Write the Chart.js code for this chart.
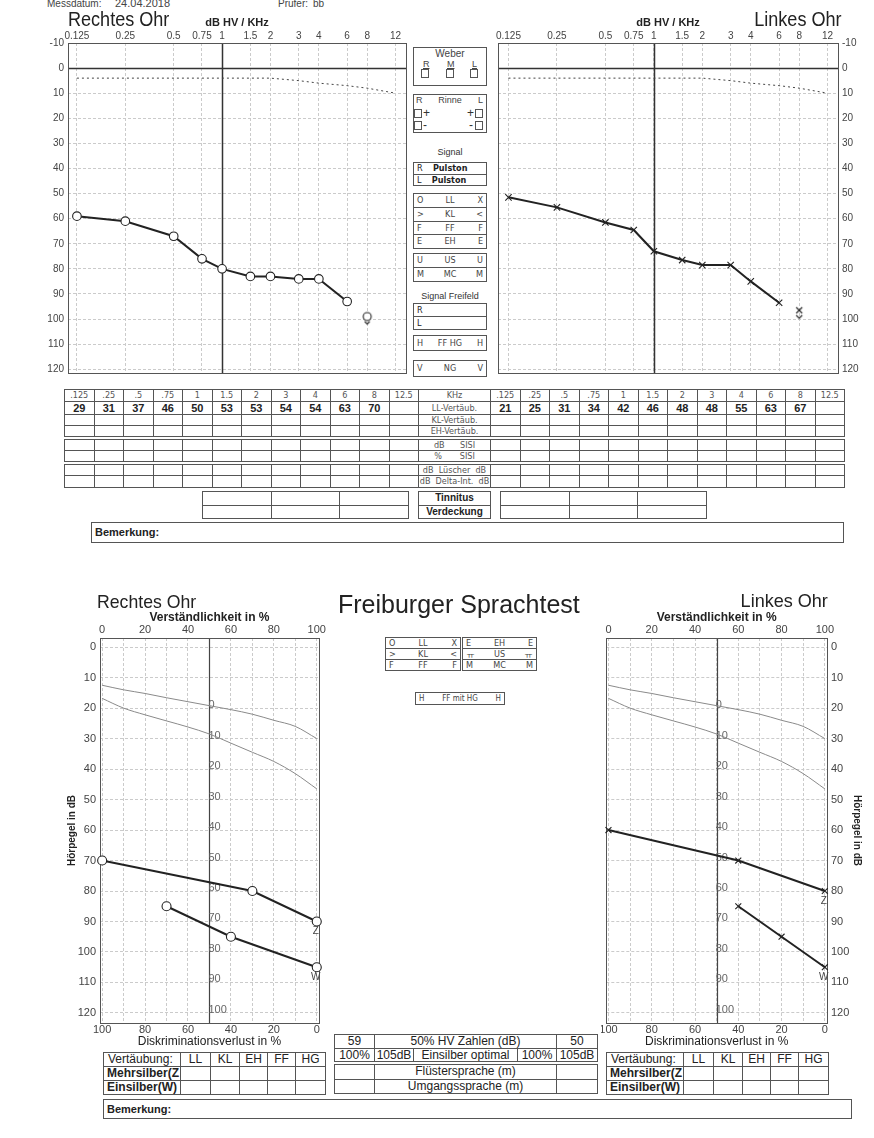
<!DOCTYPE html>
<html>
<head>
<meta charset="utf-8">
<script src="https://cdn.jsdelivr.net/npm/chart.js@4.4.1/dist/chart.umd.min.js"></script>
<style>
  body { margin: 0; background: #fff; }
  #page { position: relative; width: 874px; height: 1138px; overflow: hidden;
          font-family: "Liberation Sans", Arial, sans-serif; color: #2c2c2c; }
  .a { position: absolute; white-space: nowrap; }
  canvas { position: absolute; }
  .c { position: absolute; border: 1px solid #555; box-sizing: border-box; text-align: center;
       overflow: hidden; white-space: nowrap; font-size: 9px; }
  .nar { font-family: "Liberation Sans Narrow", "DejaVu Sans Condensed", "Liberation Sans", sans-serif; }
  .bx { position: absolute; border: 1px solid #555; box-sizing: border-box; }
  .row3 { display: grid; grid-template-columns: 1fr 2fr 1fr; padding: 0 3px; font-size: 9px; color: #444; }
  .row3 span:nth-child(1) { text-align: left; }
  .row3 span:nth-child(2) { text-align: center; }
  .row3 span:nth-child(3) { text-align: right; }
  .sq { position: absolute; width: 8px; height: 9px; border: 1px solid #555; box-sizing: border-box; }
</style>
</head>
<body>
<div id="page">
  <canvas id="audioRight"></canvas>
  <canvas id="audioLeft"></canvas>
  <canvas id="speechRight"></canvas>
  <canvas id="speechLeft"></canvas>
</div>
<script>
// ---- audiogram data (dB HV) ----
const freqs = [0.125, 0.25, 0.5, 0.75, 1, 1.5, 2, 3, 4, 6, 8, 12];
const freqTickLabels = ["0.125", "0.25", "0.5", "0.75", "1", "1.5", "2", "3", "4", "6", "8", "12"];
const audioDbTicks = [-10, 0, 10, 20, 30, 40, 50, 60, 70, 80, 90, 100, 110, 120];
const normalThreshold = [4, 4, 4, 4, 4, 4, 4, 5, 6, 7, 8, 10];

const rightAirFreqs = [0.125, 0.25, 0.5, 0.75, 1, 1.5, 2, 3, 4, 6];
const rightAir = [59, 61, 67, 76, 80, 83, 83, 84, 84, 93];
const rightNoRespFreqs = [8];
const rightNoResp = [99];

const leftAirFreqs = [0.125, 0.25, 0.5, 0.75, 1, 1.5, 2, 3, 4, 6];
const leftAir = [51.5, 55.5, 61.5, 64.5, 73, 76.5, 78.5, 78.5, 85, 93.5];
const leftNoRespFreqs = [8];
const leftNoResp = [96.5];

// table below the audiograms
const tableFreqLabels = [".125", ".25", ".5", ".75", "1", "1.5", "2", "3", "4", "6", "8", "12.5"];
const rightMasking = [29, 31, 37, 46, 50, 53, 53, 54, 54, 63, 70, ""];
const leftMasking = [21, 25, 31, 34, 42, 46, 48, 48, 55, 63, 67, ""];

// ---- Freiburger Sprachtest data ----
const normPct = [0, 10, 20, 30, 40, 50, 60, 70, 80, 90, 100];
const lossTicks = [0, 20, 40, 60, 80, 100];
const speechDbGrid = [0, 5, 10, 15, 20, 25, 30, 35, 40, 45, 50, 55, 60, 65, 70, 75, 80, 85, 90, 95, 100, 105, 110, 115, 120];
const zahlenNorm = [12.5, 14, 15.2, 16.6, 17.9, 19.2, 20.5, 22, 24, 26, 30];
const einsilberNorm = [16.8, 20, 22.2, 24.2, 26.2, 28.5, 31.5, 34.5, 37.5, 41.5, 46.5];
const speechLevelLabels = ["0", "10", "20", "30", "40", "50", "60", "70", "80", "90", "100"];
const speechLevelDb = [19, 29, 39, 49, 59, 69, 79, 89, 99, 109, 119];

const rightZPct = [0, 70, 100];
const rightZdB = [70, 80, 90];
const rightWPct = [30, 60, 100];
const rightWdB = [85, 95, 105];
const leftZPct = [0, 60, 100];
const leftZdB = [60, 70, 80];
const leftWPct = [60, 80, 100];
const leftWdB = [85, 95, 105];

// ---------------------------------------------------------------
const page = document.getElementById("page");
const FONT = "'Liberation Sans', Arial, sans-serif";
const GRID = "#cbcbcb";

function xy(xs, ys) {
  return xs.map((x, i) => ({ x, y: ys[i] }));
}

function placeCanvas(id, left, top, width, height) {
  const c = document.getElementById(id);
  c.width = width;
  c.height = height;
  c.style.left = left + "px";
  c.style.top = top + "px";
  c.style.width = width + "px";
  c.style.height = height + "px";
  return c;
}

// frame + heavy reference lines
const framePlugin = {
  id: "frame",
  beforeDatasetsDraw(chart, args, opts) {
    const { ctx, chartArea: a } = chart;
    ctx.save();
    ctx.strokeStyle = opts.color;
    ctx.lineWidth = opts.width;
    (opts.xLines || []).forEach((v) => {
      const px = Math.round(chart.scales.x.getPixelForValue(v)) + 0.5;
      ctx.beginPath(); ctx.moveTo(px, a.top); ctx.lineTo(px, a.bottom); ctx.stroke();
    });
    (opts.yLines || []).forEach((v) => {
      const py = Math.round(chart.scales.y.getPixelForValue(v)) + 0.5;
      ctx.beginPath(); ctx.moveTo(a.left, py); ctx.lineTo(a.right, py); ctx.stroke();
    });
    ctx.lineWidth = 1;
    ctx.strokeStyle = "#555";
    ctx.strokeRect(Math.round(a.left) + 0.5, Math.round(a.top) + 0.5,
      Math.round(a.right - a.left), Math.round(a.bottom - a.top));
    ctx.restore();
  },
};

// speech level numbers inside the chart + Z/W end labels
const levelTextPlugin = {
  id: "levelText",
  beforeDatasetsDraw(chart, args, opts) {
    if (!opts.labels) return;
    const { ctx, scales: { x, y } } = chart;
    ctx.save();
    ctx.font = "11px " + FONT;
    ctx.fillStyle = opts.color;
    ctx.textAlign = "left";
    ctx.textBaseline = "middle";
    opts.labels.forEach((t, i) => {
      ctx.fillText(t, x.getPixelForValue(opts.at) - 1, y.getPixelForValue(opts.values[i]));
    });
    ctx.restore();
  },
  afterDatasetsDraw(chart) {
    const { ctx } = chart;
    ctx.save();
    ctx.font = "10px " + FONT;
    ctx.fillStyle = "#444";
    ctx.textAlign = "center";
    ctx.textBaseline = "middle";
    chart.data.datasets.forEach((ds, i) => {
      if (!ds.endLabel) return;
      const pts = chart.getDatasetMeta(i).data;
      const p = pts[pts.length - 1];
      ctx.fillText(ds.endLabel, p.x - 1, p.y + 10);
    });
    ctx.restore();
  },
};

function noRespMarker(kind) {
  const c = document.createElement("canvas");
  c.width = 14;
  c.height = 22;
  const g = c.getContext("2d");
  g.strokeStyle = "#222";
  g.lineWidth = 1.1;
  if (kind === "o") {
    g.fillStyle = "#fff";
    g.beginPath(); g.arc(7, 11, 4, 0, Math.PI * 2); g.fill(); g.stroke();
    g.beginPath(); g.moveTo(4.5, 16); g.lineTo(7, 18.5); g.lineTo(9.5, 16); g.stroke();
  } else {
    g.beginPath(); g.moveTo(4, 8); g.lineTo(10, 14); g.moveTo(10, 8); g.lineTo(4, 14); g.stroke();
    g.beginPath(); g.moveTo(4, 16); g.lineTo(7, 19); g.lineTo(10, 16); g.stroke();
  }
  return c;
}

function audiogram(id, geo, axisSide, xMin, xMax, datasets) {
  const canvas = placeCanvas(id, geo.left, geo.top, geo.width, geo.height);
  return new Chart(canvas, {
    type: "line",
    data: { datasets },
    plugins: [framePlugin],
    options: {
      responsive: false,
      animation: false,
      events: [],
      layout: { padding: geo.padding },
      plugins: {
        legend: { display: false },
        tooltip: { enabled: false },
        frame: { xLines: [1], yLines: [0], color: "#333", width: 1.5 },
      },
      scales: {
        x: {
          type: "logarithmic",
          position: "top",
          min: xMin,
          max: xMax,
          afterBuildTicks: (s) => { s.ticks = freqs.map((v) => ({ value: v })); },
          afterFit: (s) => { s.height = 30; },
          ticks: {
            autoSkip: false, maxRotation: 0, minRotation: 0, padding: 1,
            color: "#444", font: { family: FONT, size: 10 },
            callback: (v, i) => freqTickLabels[i],
          },
          grid: { color: GRID, drawTicks: false },
          border: { display: false, dash: [3, 2] },
          title: {
            display: true, text: "dB HV / KHz", color: "#222",
            font: { family: FONT, size: 11, weight: "bold" }, padding: { top: 3, bottom: 0 },
          },
        },
        y: {
          type: "linear",
          position: axisSide,
          reverse: true,
          min: -10,
          max: 121.5,
          afterBuildTicks: (s) => { s.ticks = audioDbTicks.map((v) => ({ value: v })); },
          afterFit: (s) => { s.width = 36; },
          ticks: { padding: 4, color: "#444", font: { family: FONT, size: 10 } },
          grid: { color: GRID, drawTicks: false },
          border: { display: false, dash: [3, 2] },
        },
      },
    },
  });
}

function airSeries(freqList, values, style) {
  return {
    data: xy(freqList, values),
    borderColor: "#222",
    borderWidth: 2,
    pointStyle: style,
    pointRadius: style === "circle" ? 4.3 : 4.5,
    pointBorderWidth: 1.1,
    pointBackgroundColor: "#fff",
    pointBorderColor: "#222",
    clip: false,
  };
}

function noRespSeries(freqList, values, kind) {
  return {
    data: xy(freqList, values),
    showLine: false,
    pointStyle: noRespMarker(kind),
    pointRadius: 5,
    clip: false,
  };
}

function normalSeries() {
  return {
    data: xy(freqs, normalThreshold),
    borderColor: "#444",
    borderWidth: 1,
    borderDash: [2, 3],
    pointRadius: 0,
  };
}

audiogram("audioRight", { left: 32, top: 13, width: 380, height: 370, padding: { right: 4, bottom: 4 } },
  "left", 0.110, 13.94,
  [normalSeries(), airSeries(rightAirFreqs, rightAir, "circle"), noRespSeries(rightNoRespFreqs, rightNoResp, "o")]);

audiogram("audioLeft", { left: 492, top: 13, width: 382, height: 370, padding: { left: 4, bottom: 4 } },
  "right", 0.1076, 13.93,
  [normalSeries(), airSeries(leftAirFreqs, leftAir, "crossRot"), noRespSeries(leftNoRespFreqs, leftNoResp, "x")]);

function speechChart(id, geo, axisSide, datasets) {
  const canvas = placeCanvas(id, geo.left, geo.top, geo.width, geo.height);
  return new Chart(canvas, {
    type: "line",
    data: { datasets },
    plugins: [framePlugin, levelTextPlugin],
    options: {
      responsive: false,
      animation: false,
      events: [],
      layout: { padding: geo.padding },
      plugins: {
        legend: { display: false },
        tooltip: { enabled: false },
        frame: { xLines: [50], yLines: [], color: "#444", width: 1.2 },
        levelText: { labels: speechLevelLabels, values: speechLevelDb, at: 50, color: "#666" },
      },
      scales: {
        x: {
          type: "linear",
          position: "top",
          min: -1,
          max: 101,
          afterBuildTicks: (s) => { s.ticks = normPct.map((v) => ({ value: v })); },
          afterFit: (s) => { s.height = 28; },
          ticks: {
            autoSkip: false, maxRotation: 0, padding: 1, color: "#444",
            font: { family: FONT, size: 11 },
            callback: (v) => (v % 20 === 0 ? v : ""),
          },
          grid: { color: GRID, drawTicks: false },
          border: { display: false, dash: [3, 2] },
          title: {
            display: true, text: "Verständlichkeit in %", color: "#222",
            font: { family: FONT, size: 12, weight: "bold" }, padding: { top: 0, bottom: 0 },
          },
        },
        x2: {
          type: "linear",
          axis: "x",
          position: "bottom",
          reverse: true,
          min: -1,
          max: 101,
          afterBuildTicks: (s) => { s.ticks = lossTicks.map((v) => ({ value: v })); },
          afterFit: (s) => { s.height = 27; },
          ticks: { autoSkip: false, maxRotation: 0, padding: 0, color: "#444", font: { family: FONT, size: 11 } },
          grid: { display: false, drawTicks: false },
          border: { display: false },
          title: {
            display: true, text: "Diskriminationsverlust in %", color: "#222",
            font: { family: FONT, size: 12 }, padding: { top: 0, bottom: 1 },
          },
        },
        y: {
          type: "linear",
          position: axisSide,
          reverse: true,
          min: -3,
          max: 123.3,
          afterBuildTicks: (s) => { s.ticks = speechDbGrid.map((v) => ({ value: v })); },
          afterFit: (s) => { s.width = axisSide === "left" ? 34 : 36; },
          ticks: {
            padding: 4, color: "#444", font: { family: FONT, size: 11 },
            callback: (v) => (v % 10 === 0 ? v : ""),
          },
          grid: { color: GRID, drawTicks: false },
          border: { display: false, dash: [3, 2] },
          title: {
            display: true, text: "Hörpegel in dB", color: "#222",
            font: { family: FONT, size: 10, weight: "bold" }, padding: 0,
          },
        },
      },
    },
  });
}

function normCurve(values) {
  return {
    data: xy(normPct, values),
    borderColor: "#8a8a8a",
    borderWidth: 1,
    pointRadius: 0,
    cubicInterpolationMode: "monotone",
  };
}

function patientCurve(xs, ys, style, label) {
  return {
    data: xy(xs, ys),
    endLabel: label,
    borderColor: "#222",
    borderWidth: 2,
    pointStyle: style,
    pointRadius: style === "circle" ? 4.5 : 4.2,
    pointBorderWidth: 1.1,
    pointBackgroundColor: "#fff",
    pointBorderColor: "#222",
    clip: false,
  };
}

speechChart("speechRight", { left: 66, top: 610, width: 261, height: 440, padding: { right: 4 } }, "left", [
  normCurve(zahlenNorm), normCurve(einsilberNorm),
  patientCurve(rightZPct, rightZdB, "circle", "Z"),
  patientCurve(rightWPct, rightWdB, "circle", "W"),
]);

speechChart("speechLeft", { left: 601, top: 610, width: 262, height: 440, padding: { left: 4 } }, "right", [
  normCurve(zahlenNorm), normCurve(einsilberNorm),
  patientCurve(leftZPct, leftZdB, "crossRot", "Z"),
  patientCurve(leftWPct, leftWdB, "crossRot", "W"),
]);

// ---------------- text and boxes ----------------
function txt(x, y, html, style) {
  const d = document.createElement("div");
  d.className = "a";
  d.style.left = x + "px";
  d.style.top = y + "px";
  Object.assign(d.style, style || {});
  d.innerHTML = html;
  page.appendChild(d);
  return d;
}

function cell(x, y, w, h, html, style) {
  const d = document.createElement("div");
  d.className = "c nar";
  Object.assign(d.style, {
    left: x + "px", top: y + "px", width: w + 1 + "px", height: h + 1 + "px", lineHeight: h - 1 + "px",
  });
  Object.assign(d.style, style || {});
  d.innerHTML = html;
  page.appendChild(d);
  return d;
}

function rows3(x, y, w, rowH, rows, style) {
  rows.forEach((r, i) => {
    const d = document.createElement("div");
    d.className = "bx row3 nar";
    Object.assign(d.style, {
      left: x + "px", top: y + i * rowH + "px", width: w + "px", height: rowH + 1 + "px", lineHeight: rowH - 1 + "px",
    });
    Object.assign(d.style, style || {});
    d.innerHTML = r.map((s) => `<span>${s}</span>`).join("");
    page.appendChild(d);
  });
}

function sq(x, y) {
  const d = document.createElement("div");
  d.className = "sq";
  d.style.left = x + "px";
  d.style.top = y + "px";
  page.appendChild(d);
}

// header
txt(47, -2, "Messdatum:", { fontSize: "10px", color: "#444" });
txt(115, -3, "24.04.2018", { fontSize: "11px", color: "#444" });
txt(278, -2, "Prüfer:", { fontSize: "10px", color: "#444" });
txt(313, -2, "bb", { fontSize: "10px", color: "#444" });
txt(68, 7, "Rechtes Ohr", { fontSize: "21px", color: "#222", transform: "scaleX(0.86)", transformOrigin: "left top" });
txt(0, 7, "Linkes Ohr", { fontSize: "21px", color: "#222", left: "auto", right: "32px", transform: "scaleX(0.86)", transformOrigin: "right top" });

// middle legend panel of the audiogram
const PX = 413, PW = 74;
const weber = document.createElement("div");
weber.className = "bx";
Object.assign(weber.style, { left: PX + "px", top: "47px", width: PW + "px", height: "39px" });
page.appendChild(weber);
txt(PX, 48, "Weber", { width: PW + "px", textAlign: "center", fontSize: "10px", color: "#444" });
txt(PX + 10, 59, "R", { fontSize: "9px", textDecoration: "underline", color: "#444" });
txt(PX + 34, 59, "M", { fontSize: "9px", textDecoration: "underline", color: "#444" });
txt(PX + 59, 59, "L", { fontSize: "9px", textDecoration: "underline", color: "#444" });
sq(PX + 8, 69); sq(PX + 33, 69); sq(PX + 57, 69);

const rinne = document.createElement("div");
rinne.className = "bx";
Object.assign(rinne.style, { left: PX + "px", top: "94px", width: PW + "px", height: "39px" });
page.appendChild(rinne);
txt(PX + 3, 95, "R", { fontSize: "9px", color: "#444" });
txt(PX, 95, "Rinne", { width: PW + "px", textAlign: "center", fontSize: "9px", color: "#444" });
txt(PX + 65, 95, "L", { fontSize: "9px", color: "#444" });
sq(PX + 1, 109); sq(PX + 62, 109); sq(PX + 1, 121); sq(PX + 62, 121);
txt(PX + 10, 106, "+", { fontSize: "12px", color: "#333" });
txt(PX + 54, 106, "+", { fontSize: "12px", color: "#333" });
txt(PX + 10, 118, "-", { fontSize: "12px", color: "#333" });
txt(PX + 56, 118, "-", { fontSize: "12px", color: "#333" });

txt(PX, 147, "Signal", { width: PW + "px", textAlign: "center", fontSize: "9px", color: "#333" });
rows3(PX, 162, PW, 11.5, [["R&nbsp;&nbsp;&nbsp;&nbsp;<b>Pulston</b>", "", ""], ["L&nbsp;&nbsp;&nbsp;&nbsp;<b>Pulston</b>", "", ""]],
  { display: "block", color: "#222" });
rows3(PX, 193, PW, 13.75, [["O", "LL", "X"], [">", "KL", "<"], ["F", "FF", "F"], ["E", "EH", "E"]]);
rows3(PX, 253, PW, 13.75, [["U", "US", "U"], ["M", "MC", "M"]]);
txt(PX, 291, "Signal Freifeld", { width: PW + "px", textAlign: "center", fontSize: "9px", color: "#333" });
rows3(PX, 303, PW, 13, [["R", "", ""], ["L", "", ""]], { color: "#222" });
rows3(PX, 335, PW, 15, [["H", "FF HG", "H"]]);
rows3(PX, 360, PW, 16, [["V", "NG", "V"]]);

// audiogram tables
const CW = 29.5, LX = 64, MX = LX + 12 * CW, MW = 72, RX = MX + MW;
function tableRow(y, h, leftVals, label, rightVals, style) {
  for (let i = 0; i < 12; i++) {
    cell(LX + i * CW, y, CW, h, leftVals ? leftVals[i] : "", style);
    cell(RX + i * CW, y, CW, h, rightVals ? rightVals[i] : "", style);
  }
  cell(MX, y, MW, h, label, { color: "#555" });
}
const boldVal = { fontFamily: FONT, fontWeight: "bold", fontSize: "11px", color: "#222" };
tableRow(389, 12, tableFreqLabels, "KHz", tableFreqLabels, { color: "#555" });
tableRow(401, 13, rightMasking, "LL-Vertäub.", leftMasking, boldVal);
tableRow(414, 11, null, "KL-Vertäub.", null);
tableRow(425, 11, null, "EH-Vertäub.", null);
tableRow(439, 11, null, "dB&nbsp;&nbsp;&nbsp;&nbsp;&nbsp;&nbsp;SISI", null);
tableRow(450, 11, null, "%&nbsp;&nbsp;&nbsp;&nbsp;&nbsp;&nbsp;&nbsp;SISI", null);
tableRow(464, 11, null, "dB&nbsp;&nbsp;Lüscher&nbsp;&nbsp;dB", null);
tableRow(475, 12, null, "dB&nbsp;&nbsp;Delta-Int.&nbsp;&nbsp;dB", null);

for (let r = 0; r < 2; r++) {
  for (let i = 0; i < 3; i++) {
    cell(202 + i * 68.7, 491 + r * 13.5, 68.7, 13.5, "");
    cell(500 + i * 68.7, 491 + r * 13.5, 68.7, 13.5, "");
  }
}
cell(418, 491, 72, 13.5, "Tinnitus", { fontFamily: FONT, fontWeight: "bold", fontSize: "10px", color: "#222" });
cell(418, 504.5, 72, 13.5, "Verdeckung", { fontFamily: FONT, fontWeight: "bold", fontSize: "10px", color: "#222" });
cell(91, 522, 752, 20, "Bemerkung:", { fontFamily: FONT, fontWeight: "bold", fontSize: "11px", textAlign: "left", paddingLeft: "3px", color: "#222" });

// speech test headings
txt(97, 591, "Rechtes Ohr", { fontSize: "19px", color: "#222", transform: "scaleX(0.93)", transformOrigin: "left top" });
txt(338, 590, "Freiburger Sprachtest", { fontSize: "25px", color: "#222" });
txt(0, 590, "Linkes Ohr", { fontSize: "19px", color: "#222", left: "auto", right: "46px", transform: "scaleX(0.95)", transformOrigin: "right top" });

rows3(385, 637, 76, 11, [["O", "LL", "X"], [">", "KL", "<"], ["F", "FF", "F"]]);
rows3(462, 637, 75, 11, [["E", "EH", "E"], ["ㅠ", "US", "ㅠ"], ["M", "MC", "M"]]);
rows3(415, 692, 90, 12, [["H", "FF mit HG", "H"]], { fontSize: "8px" });

// speech test tables
const sFont = { fontFamily: FONT, fontSize: "12px", color: "#222" };
function vertTable(x) {
  const cols = [77, 30, 29, 28, 28, 30];
  const head = ["Vertäubung:", "LL", "KL", "EH", "FF", "HG"];
  let cx = x;
  cols.forEach((w, i) => {
    cell(cx, 1052, w, 14, head[i], Object.assign({}, sFont, i === 0 ? { textAlign: "left", paddingLeft: "4px" } : {}));
    cell(cx, 1066, w, 14, i === 0 ? "Mehrsilber(Z" : "", Object.assign({}, sFont, { fontWeight: "bold", textAlign: "left", paddingLeft: "3px" }));
    cell(cx, 1080, w, 14, i === 0 ? "Einsilber(W)" : "", Object.assign({}, sFont, { fontWeight: "bold", textAlign: "left", paddingLeft: "3px" }));
    cx += w;
  });
}
vertTable(103);
vertTable(606);

cell(334, 1034, 40, 13.5, "59", sFont);
cell(374, 1034, 182, 13.5, "50% HV Zahlen (dB)", sFont);
cell(556, 1034, 41, 13.5, "50", sFont);
cell(334, 1047.5, 40, 13.5, "100%", sFont);
cell(374, 1047.5, 39, 13.5, "105dB", sFont);
cell(413, 1047.5, 104, 13.5, "Einsilber optimal", sFont);
cell(517, 1047.5, 39, 13.5, "100%", sFont);
cell(556, 1047.5, 41, 13.5, "105dB", sFont);
cell(334, 1064, 40, 14.5, "", sFont);
cell(374, 1064, 182, 14.5, "Flüstersprache (m)", sFont);
cell(556, 1064, 41, 14.5, "", sFont);
cell(334, 1078.5, 40, 14.5, "", sFont);
cell(374, 1078.5, 182, 14.5, "Umgangssprache (m)", sFont);
cell(556, 1078.5, 41, 14.5, "", sFont);

cell(103, 1099, 748, 19, "Bemerkung:", { fontFamily: FONT, fontWeight: "bold", fontSize: "11px", textAlign: "left", paddingLeft: "3px", color: "#222" });
</script>
</body>
</html>
